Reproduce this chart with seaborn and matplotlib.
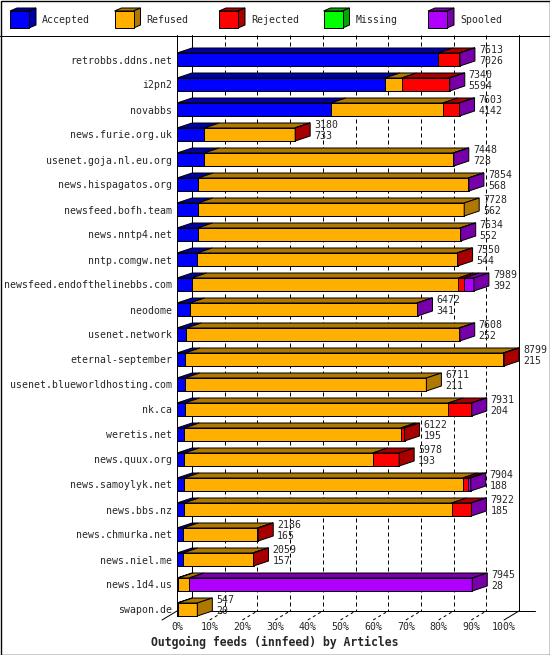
import numpy as np
import pandas as pd
import matplotlib.pyplot as plt
import seaborn as sns
from matplotlib.patches import Polygon, Rectangle

# data
hosts = ["retrobbs.ddns.net", "i2pn2", "novabbs", "news.furie.org.uk",
         "usenet.goja.nl.eu.org", "news.hispagatos.org", "newsfeed.bofh.team",
         "news.nntp4.net", "nntp.comgw.net", "newsfeed.endofthelinebbs.com",
         "neodome", "usenet.network", "eternal-september",
         "usenet.blueworldhosting.com", "nk.ca", "weretis.net", "news.quux.org",
         "news.samoylyk.net", "news.bbs.nz", "news.chmurka.net", "news.niel.me",
         "news.1d4.us", "swapon.de"]
totals = [7613, 7340, 7603, 3180, 7448, 7854, 7728, 7634, 7550, 7989, 6472, 7608,
          8799, 6711, 7931, 6122, 5978, 7904, 7922, 2186, 2059, 7945, 547]
accepted = [7026, 5594, 4142, 733, 728, 568, 562, 552, 544, 392, 341, 252,
            215, 211, 204, 195, 193, 188, 185, 165, 157, 28, 20]
refused = [0, 450, 3010, 2437, 6700, 7270, 7166, 7062, 6990, 7180, 6111, 7336,
           8564, 6500, 7094, 5822, 5071, 7497, 7205, 2000, 1880, 295, 527]
rejected = [565, 1280, 440, 10, 0, 0, 0, 0, 16, 150, 0, 0,
            20, 0, 620, 105, 714, 150, 520, 21, 22, 0, 0]
missing = [0] * 23
spooled = [22, 16, 11, 0, 20, 16, 0, 20, 0, 267, 20, 20,
           0, 0, 13, 0, 0, 69, 12, 0, 0, 7622, 0]

series_names = ["Accepted", "Refused", "Rejected", "Missing", "Spooled"]
front_colors = ["#0000ff", "#ffaf00", "#ff0000", "#00ff00", "#af00ff"]
dark_colors = ["#0000a8", "#af7800", "#a80000", "#00a800", "#7800a8"]

sns.set_style("white")
plt.rcParams["font.family"] = ["DejaVu Sans Mono"]
FS = 7.1

W, H = 550, 655
fig = plt.figure(figsize=(5.5, 6.55), dpi=100)

# background axes in pixels: border, legend, title
bg = fig.add_axes([0, 0, 1, 1])
bg.set_xlim(0, W)
bg.set_ylim(H, 0)
bg.axis("off")

# pixel layout of the plot
x0_px, x100_px = 177, 504
max_total = max(totals)
s = (x100_px - x0_px) / max_total
row0_px, row_step = 59.5, 25
ax_left, ax_right, ax_top, ax_bot = 177, 545, 35, 621
ax = fig.add_axes([ax_left / W, 1 - ax_bot / H, (ax_right - ax_left) / W, (ax_bot - ax_top) / H])
ax.patch.set_alpha(0)


def px_x(p):
    return (p - x0_px) / s


def px_y(p):
    return (p - row0_px) / row_step


df = pd.DataFrame({"host": hosts, "Accepted": accepted, "Refused": refused,
                   "Rejected": rejected, "Missing": missing, "Spooled": spooled})
cum = df[series_names].cumsum(axis=1)

# front faces: cumulative bars, longest first
for i in reversed(range(5)):
    sns.barplot(x=cum[series_names[i]], y=df["host"], order=hosts, orient="h",
                color=front_colors[i], saturation=1, width=0.52, errorbar=None,
                edgecolor="black", linewidth=0.72, ax=ax, zorder=2)

hb = 0.26
DX = 15 / s
DY = 5 / row_step

# 3d top and side faces + value labels
for r in range(len(hosts)):
    vals = df.loc[r, series_names].values.astype(float)
    edges = np.concatenate([[0], np.cumsum(vals)])
    for i in range(5):
        if vals[i] <= 0:
            continue
        a, b = edges[i], edges[i + 1]
        ax.add_patch(Polygon([(a, r - hb), (b, r - hb), (b + DX, r - hb - DY), (a + DX, r - hb - DY)],
                             closed=True, fc=dark_colors[i], ec="black", lw=0.72, zorder=3))
    last = max(i for i in range(5) if vals[i] > 0)
    T = edges[-1]
    ax.add_patch(Polygon([(T, r - hb), (T + DX, r - hb - DY), (T + DX, r + hb - DY), (T, r + hb)],
                         closed=True, fc=dark_colors[last], ec="black", lw=0.72, zorder=3))
    ax.text(T + DX + 4 / s, r - 0.38, str(totals[r]), fontsize=FS, va="center", ha="left", zorder=4)
    ax.text(T + DX + 4 / s, r + 0.06, str(accepted[r]), fontsize=FS, va="center", ha="left", zorder=4)

# back wall grid
ticks = [max_total * k / 10 for k in range(11)]
y_top, y_floor, y_front = px_y(ax_top), px_y(611), px_y(620)
for k in range(1, 10):
    ax.plot([ticks[k] + DX] * 2, [y_top, y_floor], color="black", lw=0.72, ls=(0, (4, 3)), zorder=0.5)
ax.plot([ticks[10] + DX] * 2, [y_top, y_floor], color="black", lw=0.72, zorder=0.5)
ax.plot([DX, DX], [y_top, y_floor], color="black", lw=0.72, zorder=0.5)
ax.plot([0, 0], [y_top, px_y(613)], color="black", lw=0.72, zorder=2.5, clip_on=False)

# floor
ax.plot([0, px_x(535)], [y_floor, y_floor], color="black", lw=0.72, zorder=0.5, clip_on=False)
ax.plot([-DX, 0], [y_front, y_floor], color="black", lw=0.72, zorder=0.5, clip_on=False)
for k in range(1, 10):
    ax.plot([ticks[k], ticks[k] + DX], [y_front, y_floor], color="black", lw=0.72,
            ls=(0, (3, 3)), zorder=0.5, clip_on=False)
ax.plot([ticks[10], ticks[10] + DX], [y_front, y_floor], color="black", lw=0.72, zorder=0.5, clip_on=False)

ax.set_xlim(0, px_x(ax_right))
ax.set_ylim(px_y(ax_bot), px_y(ax_top))
ax.set_xticks(ticks, [f"{10 * k}%" for k in range(11)])
ax.tick_params(axis="x", length=0, pad=1, labelsize=FS)
ax.tick_params(axis="y", length=0, pad=3.6, labelsize=FS)
ax.set_xlabel("")
ax.set_ylabel("")
for sp in ax.spines.values():
    sp.set_visible(False)

# border and legend separator
bg.add_patch(Rectangle((0.5, 0.5), W - 1, H - 1, fill=False, ec="black", lw=1.0, clip_on=False))
bg.plot([0, W], [35.5, 35.5], color="black", lw=0.72, clip_on=False)

# legend cubes
for i, name in enumerate(series_names):
    lx = 10 + 104.5 * i
    bg.add_patch(Polygon([(lx, 11), (lx + 19, 11), (lx + 26, 8), (lx + 7, 8)], closed=True,
                         fc=dark_colors[i], ec="black", lw=0.72))
    bg.add_patch(Polygon([(lx + 19, 11), (lx + 26, 8), (lx + 26, 25), (lx + 19, 28)], closed=True,
                         fc=dark_colors[i], ec="black", lw=0.72))
    bg.add_patch(Rectangle((lx, 11), 19, 17, fc=front_colors[i], ec="black", lw=0.72))
    bg.text(lx + 32, 20, name, fontsize=FS, va="center", ha="left")

bg.text(275, 642, "Outgoing feeds (innfeed) by Articles", fontsize=8.3,
        fontweight="bold", ha="center", va="center")

fig.savefig("out.png", dpi=100)
